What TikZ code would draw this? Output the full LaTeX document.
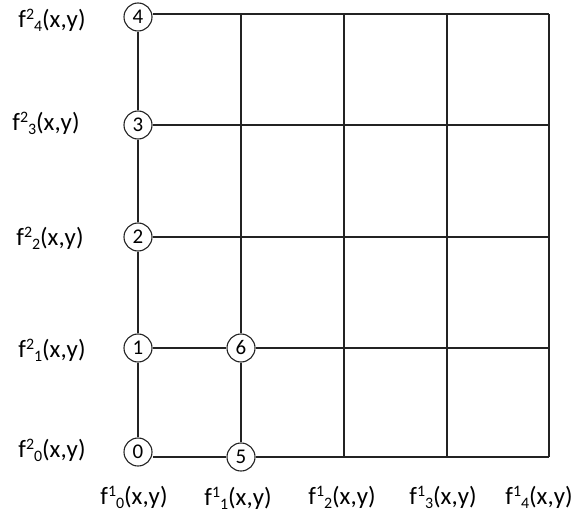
\documentclass[tikz,border=0pt]{standalone}
\usepackage{fontspec}
\setmainfont{Carlito}
\usepackage{xcolor}
\definecolor{gridgray}{RGB}{35, 35, 35}
\usetikzlibrary{positioning}

% f^{a}_{b}(x,y)
\newcommand{\fxy}[2]{f\raisebox{0.32em}{\fontsize{16}{16}\selectfont #1}\raisebox{-0.16em}{\fontsize{16}{16}\selectfont #2}(x,y)}

\begin{document}
\begin{tikzpicture}[x=1bp, y=-1bp,
        state/.style={circle, draw=gridgray, fill=white, line width=1.1bp, minimum size=28bp, inner sep=0pt, font=\fontsize{21}{22}\selectfont},
        flabel/.style={font=\fontsize{25}{28}\selectfont, inner sep=0pt},
        line/.style={draw=gridgray, line width=1.3bp}]

        \useasboundingbox (0,0) rectangle (580,521);

        % Columna izquierda
        \node [state] (n0) at (138,452) {0};
        \node [state] (n1) at (138,348) {1};
        \node [state] (n2) at (138,237) {2};
        \node [state] (n3) at (138,125) {3};
        \node [state] (n4) at (138,17) {4};

        % Segunda columna
        \node [state] (n5) at (241,457) {5};
        \node [state] (n6) at (241,348) {6};

        % Bordes de la rejilla
        \coordinate (t1) at (241,14);
        \coordinate (t2) at (344,14);
        \coordinate (t3) at (447,14);
        \coordinate (b2) at (344,457);
        \coordinate (b3) at (447,457);
        \coordinate (r0) at (549,457);
        \coordinate (r1) at (549,348);
        \coordinate (r2) at (549,237);
        \coordinate (r3) at (549,125);
        \coordinate (r4) at (549,14);

        % Lineas verticales
        \path [line] (n0) -- (n1) -- (n2) -- (n3) -- (n4);
        \path [line] (n5) -- (n6) -- (t1);
        \path [line] (b2) -- (t2);
        \path [line] (b3) -- (t3);
        \path [line] (r0) -- (r4);

        % Lineas horizontales
        \path [line] (n0.east |- r0) -- (n5) -- (r0);
        \path [line] (n1) -- (n6) -- (r1);
        \path [line] (n2) -- (r2);
        \path [line] (n3) -- (r3);
        \path [line] (n4.east |- r4) -- (r4);

        % Etiquetas f^2
        \node [flabel] (l4) at (52,20) {\fxy{2}{4}};
        \node [flabel] (l3) at (46,123) {\fxy{2}{3}};
        \node [flabel] (l2) at (50,238) {\fxy{2}{2}};
        \node [flabel] (l1) at (52,350) {\fxy{2}{1}};
        \node [flabel] (l0) at (52,450) {\fxy{2}{0}};

        % Etiquetas f^1
        \node [flabel] (k0) at (134,497) {\fxy{1}{0}};
        \node [flabel] (k1) at (238,498) {\fxy{1}{1}};
        \node [flabel] (k2) at (342,497) {\fxy{1}{2}};
        \node [flabel] (k3) at (443,497) {\fxy{1}{3}};
        \node [flabel] (k4) at (539,497) {\fxy{1}{4}};
    \end{tikzpicture}
\end{document}
